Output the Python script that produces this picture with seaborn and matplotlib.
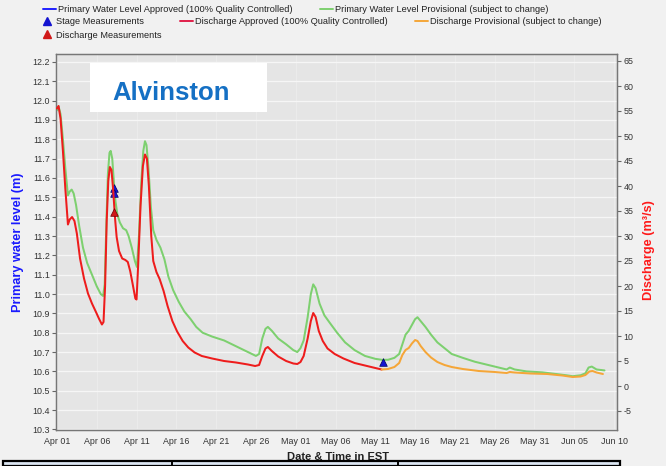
import numpy as np
import pandas as pd
import matplotlib
matplotlib.use("Agg")
import matplotlib.pyplot as plt
import seaborn as sns
from matplotlib.patches import Rectangle
from matplotlib.lines import Line2D

# ---------------- data ----------------
START = "2024-04-01"

level_days = [0.0, 0.2, 0.45, 0.75, 1.05, 1.38, 1.6, 1.85, 2.1, 2.4, 2.8, 3.27, 3.8, 4.4,
              5.0, 5.5, 5.8, 6.0, 6.2, 6.4, 6.6, 6.75, 6.95, 7.15, 7.35, 7.6, 7.9, 8.3, 8.7,
              9.0, 9.4, 9.8, 10.05, 10.3, 10.6, 10.85, 11.06, 11.25, 11.5, 11.8, 12.1, 12.5,
              13.0, 13.5, 14.0, 14.6, 15.3, 16.0, 16.8, 17.5, 18.3, 19.5, 21.0, 22.5, 24.0,
              25.0, 25.4, 25.8, 26.2, 26.5, 27.0, 27.8, 28.8, 29.7, 30.2, 30.6, 31.0, 31.5,
              31.9, 32.2, 32.5, 33.0, 33.6, 34.3, 35.2, 36.2, 37.4, 38.7, 40.0, 40.8, 41.6,
              42.4, 43.0, 43.4, 43.8, 44.2, 44.6, 45.0, 45.3, 45.7, 46.3, 47.0, 47.8, 48.7,
              49.6, 51.0, 52.5, 54.0, 55.5, 56.5, 56.9, 57.5, 59.0, 61.0, 63.0, 64.0, 64.8,
              65.8, 66.4, 66.8, 67.2, 67.8, 68.8]
level_m = [11.95, 11.97, 11.93, 11.80, 11.65, 11.51, 11.53, 11.54, 11.52, 11.46, 11.35,
           11.24, 11.16, 11.10, 11.04, 11.00, 10.99, 11.05, 11.35, 11.62, 11.73, 11.74,
           11.70, 11.58, 11.48, 11.41, 11.37, 11.34, 11.33, 11.30, 11.24, 11.17, 11.14,
           11.30, 11.58, 11.74, 11.79, 11.77, 11.65, 11.45, 11.33, 11.28, 11.24, 11.18,
           11.09, 11.02, 10.96, 10.91, 10.87, 10.83, 10.80, 10.78, 10.76, 10.73, 10.70,
           10.68, 10.69, 10.77, 10.82, 10.83, 10.81, 10.77, 10.74, 10.71, 10.70, 10.72,
           10.76, 10.88, 11.00, 11.05, 11.03, 10.95, 10.89, 10.85, 10.80, 10.75, 10.71,
           10.68, 10.665, 10.66, 10.66, 10.67, 10.69, 10.74, 10.79, 10.81, 10.84, 10.87,
           10.88, 10.86, 10.83, 10.79, 10.75, 10.72, 10.69, 10.67, 10.65, 10.635, 10.62,
           10.61, 10.62, 10.61, 10.60, 10.595, 10.585, 10.58, 10.575, 10.58, 10.59, 10.62,
           10.625, 10.61, 10.605]

q_appr_days = [0.0, 0.2, 0.45, 0.75, 1.05, 1.38, 1.6, 1.9, 2.2, 2.5, 2.9, 3.4, 3.9, 4.4,
               4.9, 5.3, 5.65, 5.85, 6.05, 6.25, 6.45, 6.65, 6.85, 7.05, 7.3, 7.5, 7.8, 8.2,
               8.6, 8.9, 9.2, 9.5, 9.85, 10.0, 10.2, 10.5, 10.8, 11.06, 11.3, 11.55, 11.85,
               12.1, 12.5, 12.9, 13.4, 13.9, 14.5, 15.1, 15.8, 16.5, 17.3, 18.2, 19.5, 21.0,
               22.5, 24.0, 24.9, 25.4, 25.8, 26.2, 26.5, 27.0, 27.8, 28.8, 29.7, 30.2, 30.6,
               31.0, 31.5, 31.9, 32.2, 32.5, 32.9, 33.4, 34.0, 34.9, 36.0, 37.4, 38.7, 40.0,
               40.8]
q_appr = [55.5, 56.0, 53.5, 47.0, 39.5, 32.3, 33.3, 33.8, 33.0, 30.5, 25.5, 21.5, 18.5,
          16.5, 14.8, 13.4, 12.3, 12.8, 20.0, 33.0, 41.0, 43.8, 43.2, 39.5, 33.5, 29.8,
          27.0, 25.5, 25.2, 24.8, 23.0, 20.5, 17.5, 17.3, 24.0, 36.0, 44.0, 46.3, 45.5,
          40.0, 30.0, 25.0, 22.8, 21.4, 19.0, 16.0, 13.0, 10.9, 9.0, 7.7, 6.7, 6.0, 5.5,
          5.0, 4.7, 4.3, 4.0, 4.2, 6.0, 7.5, 7.8, 7.0, 5.9, 5.0, 4.5, 4.4, 4.8, 6.0, 9.5,
          13.0, 14.6, 13.8, 11.0, 9.0, 7.5, 6.4, 5.5, 4.6, 4.1, 3.6, 3.3]

q_prov_days = [40.8, 41.6, 42.4, 43.0, 43.4, 43.8, 44.2, 44.6, 45.0, 45.3, 45.7, 46.3,
               47.0, 47.8, 48.7, 49.6, 51.0, 53.0, 55.0, 56.5, 56.9, 57.5, 59.5, 61.6,
               63.5, 64.8, 65.8, 66.4, 66.9, 67.3, 67.8, 68.6]
q_prov = [3.3, 3.4, 3.8, 4.6, 6.2, 7.2, 7.6, 8.5, 9.2, 9.0, 8.0, 6.8, 5.7, 4.8, 4.2, 3.8,
          3.4, 3.0, 2.8, 2.6, 2.8, 2.7, 2.5, 2.4, 2.1, 1.8, 1.9, 2.2, 2.9, 3.0, 2.7, 2.4]

stage_meas_days = [7.16, 7.16, 40.95]
stage_meas_m = [11.55, 11.52, 10.65]
q_meas_days = [7.16]
q_meas = [34.8]

x_tick_labels = ["Apr 01", "Apr 06", "Apr 11", "Apr 16", "Apr 21", "Apr 26", "May 01",
                 "May 06", "May 11", "May 16", "May 21", "May 26", "May 31", "Jun 05",
                 "Jun 10"]
left_ticks = [10.3, 10.4, 10.5, 10.6, 10.7, 10.8, 10.9, 11.0, 11.1, 11.2, 11.3, 11.4, 11.5,
              11.6, 11.7, 11.8, 11.9, 12.0, 12.1, 12.2]
right_ticks = [-5, 0, 5, 10, 15, 20, 25, 30, 35, 40, 45, 50, 55, 60, 65]

station = "Alvinston"
legend_labels = ["Primary Water Level Approved (100% Quality Controlled)",
                 "Primary Water Level Provisional (subject to change)",
                 "Stage Measurements",
                 "Discharge Approved (100% Quality Controlled)",
                 "Discharge Provisional (subject to change)",
                 "Discharge Measurements"]

# ---------------- helpers ----------------
t0 = pd.Timestamp(START)
def to_dt(days):
    return t0 + pd.to_timedelta(np.asarray(days, dtype=float), unit="D")

GREEN = "#7dd06f"
RED = "#ee1c1c"
ORANGE = "#f5a638"
BLUE = "#1414d0"
DRED = "#d01818"

sns.set_style("white")
plt.rcParams["font.family"] = ["Liberation Sans", "DejaVu Sans"]

W, H = 666, 466
fig = plt.figure(figsize=(W / 100, H / 100), dpi=100)
fig.patch.set_facecolor("#f1f1f1")

L, R, T, B = 56, 617, 54, 430
ax = fig.add_axes([L / W, 1 - B / H, (R - L) / W, (B - T) / H])
ax.set_facecolor("#e5e5e5")
ax2 = ax.twinx()

df_level = pd.DataFrame({"t": to_dt(level_days), "v": level_m})
df_qa = pd.DataFrame({"t": to_dt(q_appr_days), "v": q_appr})
df_qp = pd.DataFrame({"t": to_dt(q_prov_days), "v": q_prov})
df_sm = pd.DataFrame({"t": to_dt(stage_meas_days), "v": stage_meas_m})
df_qm = pd.DataFrame({"t": to_dt(q_meas_days), "v": q_meas})

line_kw = dict(lw=1.45, estimator=None, zorder=3, solid_joinstyle="round")
sns.lineplot(data=df_level, x="t", y="v", ax=ax, color=GREEN, **line_kw)
sns.lineplot(data=df_qa, x="t", y="v", ax=ax2, color=RED, **line_kw)
sns.lineplot(data=df_qp, x="t", y="v", ax=ax2, color=ORANGE, **line_kw)
sns.scatterplot(data=df_sm, x="t", y="v", ax=ax, marker="^", s=30, color=BLUE,
                edgecolor="#000060", linewidth=0.5, zorder=5)
sns.scatterplot(data=df_qm, x="t", y="v", ax=ax2, marker="^", s=30, color=DRED,
                edgecolor="#700000", linewidth=0.5, zorder=5)

# axes limits / ticks
ax.set_xlim(t0 - pd.Timedelta(days=0.12), t0 + pd.Timedelta(days=70.37))
ax.set_ylim(10.297, 12.241)
ax2.set_ylim(-8.8, 66.4)
xt = to_dt([5 * i for i in range(len(x_tick_labels))])
ax.set_xticks(xt)
ax.set_xticklabels(x_tick_labels)
ax.set_yticks(left_ticks)
ax.set_yticklabels([f"{v:.1f}" for v in left_ticks])
ax2.set_yticks(right_ticks)
ax2.set_yticklabels([str(v) for v in right_ticks])

ax.set_xlabel("")
ax.set_ylabel("")
ax2.set_ylabel("")

for a in (ax, ax2):
    a.tick_params(axis="both", which="major", direction="out", length=3, width=0.8,
                  color="#666666", labelsize=6.4, labelcolor="#333333", pad=1.5)
    for s in a.spines.values():
        s.set_color("#777777")
        s.set_linewidth(0.9)
ax.tick_params(axis="x", pad=2)

ax.grid(True, axis="y", color="#f6f6f6", lw=0.9)
ax.grid(True, axis="x", color="#ececec", lw=0.7)
ax.set_axisbelow(True)
ax2.grid(False)

# title box
ax.add_patch(Rectangle(((90 - L) / (R - L), (B - 112) / (B - T)), (267 - 90) / (R - L),
                       (112 - 63) / (B - T), transform=ax.transAxes, facecolor="white",
                       edgecolor="none", zorder=6))
ax.text((112 - L) / (R - L), (B - 100) / (B - T), station, transform=ax.transAxes,
        fontsize=18.5, fontweight="bold", color="#1570c4", va="baseline", ha="left", zorder=7)

# axis labels
fig.text(18 / W, 1 - 242 / H, "Primary water level (m)", rotation=90, ha="center",
         va="center", fontsize=9.2, fontweight="bold", color="#1a1aff")
fig.text(649 / W, 1 - 250 / H, "Discharge (m\u00b3/s)", rotation=90, ha="center",
         va="center", fontsize=9.2, fontweight="bold", color="#ff1a1a")
fig.text(338 / W, 1 - 457 / H, "Date & Time in EST", ha="center", va="center",
         fontsize=8, fontweight="bold", color="#222222")

# legend rows
leg_specs = [
    (Line2D([], [], color="#2020ff", lw=1.4), legend_labels[0], 43, 10),
    (Line2D([], [], color=GREEN, lw=1.4), legend_labels[1], 320, 10),
    (Line2D([], [], ls="none", marker="^", color=BLUE, markersize=6), legend_labels[2], 41, 22),
    (Line2D([], [], color="#e0204a", lw=1.4), legend_labels[3], 180, 22),
    (Line2D([], [], color=ORANGE, lw=1.4), legend_labels[4], 415, 22),
    (Line2D([], [], ls="none", marker="^", color=DRED, markersize=6), legend_labels[5], 41, 35),
]
for h, lab, x, y in leg_specs:
    lg = fig.legend([h], [lab], loc="center left", bbox_to_anchor=(x / W, 1 - y / H),
                    frameon=False, fontsize=6.7, handlelength=1.35, handletextpad=0.3,
                    borderpad=0, borderaxespad=0)
    for tx in lg.get_texts():
        tx.set_color("#222222")

# bottom screenshot table strip
fig.patches.append(Rectangle((3 / W, 0), (620 - 3) / W, (H - 461) / H, transform=fig.transFigure,
                             facecolor="#dce6f2", edgecolor="black", lw=1.6, zorder=10))
for xv in (172, 398):
    fig.lines.append(Line2D([xv / W, xv / W], [0, (H - 461) / H], transform=fig.transFigure,
                            color="black", lw=1.4, zorder=11))

fig.savefig("out.png", dpi=100, facecolor=fig.get_facecolor())
